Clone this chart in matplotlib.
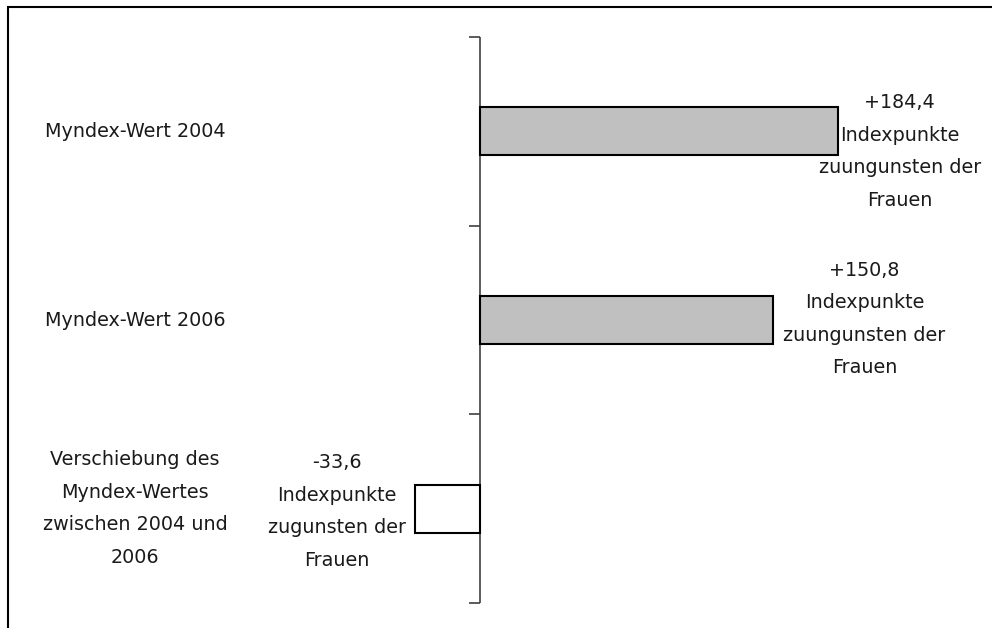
import matplotlib
matplotlib.use("Agg")
from matplotlib import pyplot as plt
from matplotlib import transforms
from matplotlib.patches import Rectangle

categories = ["Myndex-Wert 2004", "Myndex-Wert 2006",
              "Verschiebung des\nMyndex-Wertes\nzwischen 2004 und\n2006"]
values = [184.4, 150.8, -33.6]
value_texts = ["+184,4", "+150,8", "-33,6"]
value_notes = ["Indexpunkte\nzuungunsten der\nFrauen",
               "Indexpunkte\nzuungunsten der\nFrauen",
               "Indexpunkte\nzugunsten der\nFrauen"]
bar_colors = ["#c0c0c0", "#c0c0c0", "#ffffff"]

W, H = 992, 628
fig = plt.figure(figsize=(W / 100, H / 100), dpi=100)
plt.rcParams['font.family'] = ['DejaVu Sans']

# frame around the chart area (right/bottom cut off like the original)
fig.patches.append(Rectangle((8 / W, -0.05), 1.2, 1 - 7 / H + 0.05, transform=fig.transFigure,
                             fill=False, edgecolor="black", linewidth=1.5))

ax_left_px, ax_right_px, zero_px = 250, 990, 480
scale = 1.94  # px per index point
ax = fig.add_axes([ax_left_px / W, 1 - 603 / H, (ax_right_px - ax_left_px) / W, (603 - 37) / H])
ax.set_xlim(-(zero_px - ax_left_px) / scale, (ax_right_px - zero_px) / scale)
ax.set_ylim(2.5, -0.5)

pos = list(range(len(values)))
ax.barh(pos, values, height=0.254, color=bar_colors, edgecolor="black", linewidth=1.5)

for s in ["top", "right", "bottom", "left"]:
    ax.spines[s].set_visible(False)
ax.axvline(0, color="#404040", linewidth=1.2, zorder=0)
ax.set_xticks([])
ax.set_yticks([-0.5, 0.5, 1.5, 2.5])
ax.set_yticklabels([])
ax.tick_params(axis="y", length=8, width=1.2, color="#404040", pad=0)
# move ticks onto the zero line
for tl in ax.yaxis.get_major_ticks():
    tl.tick1line.set_transform(transforms.offset_copy(
        ax.get_yaxis_transform(), fig=fig, x=(zero_px - ax_left_px) * 72 / 100, units="points"))

fs, ls = 13.8, 1.9

# category labels on the far left
lbl_tr = transforms.blended_transform_factory(fig.transFigure, ax.transData)
for p, c in zip(pos, categories):
    ax.text(135 / W, p, c, transform=lbl_tr, ha="center", va="center",
            fontsize=fs, linespacing=ls, color="#1a1a1a")

# value labels
label_dx = [62, 92, -78]   # px offset of label centre from bar end
label_dy = [-20, 1, -3]    # px offset (up positive)
for p, v, t, n, dx, dy in zip(pos, values, value_texts, value_notes, label_dx, label_dy):
    ax.annotate(t + "\n" + n, xy=(v, p), xytext=(dx * 0.72, dy * 0.72), textcoords="offset points",
                ha="center", va="center", fontsize=fs, linespacing=ls, color="#1a1a1a")

fig.savefig("out.png", dpi=100)
